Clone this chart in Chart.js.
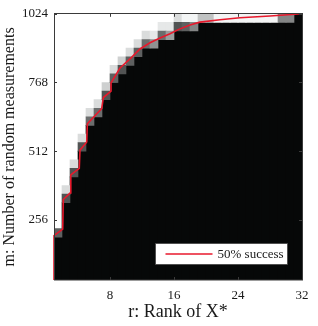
<!DOCTYPE html>
<html>
<head>
<meta charset="utf-8">
<script src="https://cdn.jsdelivr.net/npm/chart.js@4.4.1/dist/chart.umd.min.js"></script>
<style>
  html, body { margin: 0; padding: 0; background: #ffffff; }
  #wrap { width: 318px; height: 326px; }
</style>
</head>
<body>
<div id="wrap"><canvas id="c" width="318" height="326"></canvas></div>
<script>
// ---- data ----
// cells span rank k .. k+1 (k = 1..31) and m .. m+32
const cellRank = [1,2,3,4,5,6,7,8,9,10,11,12,13,14,15,16,17,18,19,20,21,22,23,24,25,26,27,28,29,30,31];
// top edge (m) of the all-failure (black) block in each rank column
const blackTop = [192,320,416,512,608,640,704,768,800,832,864,896,896,928,928,960,
                  960,960,992,992,992,992,992,992,992,992,992,992,992,992,1024];
// success fraction of the 1st and 2nd cells above that block (null = white)
const level1 = [0.35,0.3,0.3,0.3,0.4,0.4,0.3,0.35,0.3,0.35,0.35,0.4,0.55,0.4,0.6,0.3,
                0.35,0.5,0.75,0.75,0.95,0.95,0.95,0.95,0.95,0.95,0.95,0.95,0.5,0.5,null];
const level2 = [null,0.85,0.85,0.85,0.85,0.85,0.8,0.85,0.8,0.85,0.85,0.85,0.9,0.9,0.9,0.85,
                0.95,0.95,null,null,null,null,null,null,null,null,null,null,null,null,null];
// 50% success curve
const curveRank = [1,1,2.09,2.16,3.0,3.1,4.16,4.25,5.09,5.17,6.96,7.17,8.13,8.13,9.25,10.6,11.75,13,14.25,15.5,16.6,18,19.25,21.75,24.25,28,32];
const curveM    = [32,197,222,332,356,424,448,516,546,614,671,712,736,767,822,859,893,916,934,950,966,982,993,1002,1009,1016,1024];
const xTicks = [8,16,24,32];
const yTicks = [256,512,768,1024];
const cellM = 32, cellR = 1;
const legendLabel = '50% success';

// ---- helpers ----
function grayOf(v){ const g = Math.round(8 + v*(255-8)); return 'rgb('+g+','+Math.min(255,g+2)+','+Math.min(255,g+2)+')'; }
function levelDataset(levels, offset){
  const data = [], colors = [];
  cellRank.forEach((k,i)=>{
    if(levels[i]===null) return;
    const lo = blackTop[i] + offset*cellM;
    data.push({x:k + cellR/2, y:[lo, lo+cellM]});
    colors.push(grayOf(levels[i]));
  });
  return {type:'bar', data, backgroundColor: colors, borderWidth:0, grouped:false,
          barPercentage:1, categoryPercentage:1, order:2};
}

const failure = {type:'bar', data: cellRank.map((k,i)=>({x:k + cellR/2, y:[32, blackTop[i]]})),
  backgroundColor:'#060808', borderWidth:0, grouped:false, barPercentage:1, categoryPercentage:1, order:3};

const curve = {type:'line', label: legendLabel,
  data: curveRank.map((r,i)=>({x:r, y:curveM[i]})),
  borderColor:'#e8192c', borderWidth:1.6, pointRadius:0, tension:0, order:0, clip:false};

const frame = {
  id:'frame',
  afterDatasetsDraw(chart){
    const {ctx, chartArea:a, scales} = chart;
    ctx.save();
    ctx.strokeStyle = '#3a3a3a'; ctx.lineWidth = 1;
    ctx.strokeRect(Math.round(a.left)+0.5, Math.round(a.top)-0.5, Math.round(a.right-a.left), Math.round(a.bottom-a.top)+0.5);
    ctx.beginPath();
    xTicks.forEach(v=>{ const p = Math.round(scales.x.getPixelForValue(v))+0.5;
      ctx.moveTo(p,a.bottom); ctx.lineTo(p,a.bottom-3); ctx.moveTo(p,a.top); ctx.lineTo(p,a.top+3); });
    yTicks.forEach(v=>{ const p = Math.round(scales.y.getPixelForValue(v))+0.5;
      ctx.moveTo(a.left,p); ctx.lineTo(a.left+3,p); ctx.moveTo(a.right,p); ctx.lineTo(a.right-3,p); });
    ctx.stroke();
    // legend
    const w = 132, h = 21;
    const x0 = Math.round(a.right - 15 - w)+0.5, y0 = Math.round(a.bottom - 16 - h)+0.5;
    ctx.fillStyle = '#ffffff'; ctx.fillRect(x0,y0,w,h);
    ctx.strokeStyle = '#444'; ctx.lineWidth = 0.8; ctx.strokeRect(x0,y0,w,h);
    ctx.strokeStyle = curve.borderColor; ctx.lineWidth = 1.6;
    ctx.beginPath(); ctx.moveTo(x0+10, y0+h/2); ctx.lineTo(x0+57, y0+h/2); ctx.stroke();
    ctx.fillStyle = '#1a1a1a'; ctx.font = '13px "Liberation Serif"'; ctx.textBaseline='middle'; ctx.textAlign='left';
    ctx.fillText(legendLabel, x0+62, y0+h/2+0.5);
    ctx.restore();
  }
};

new Chart(document.getElementById('c'), {
  data: { datasets: [curve, levelDataset(level1,0), levelDataset(level2,1), failure] },
  options: {
    responsive:false, animation:false, devicePixelRatio:1,
    layout:{ padding:{ top:10, right:16, left:0, bottom:0 } },
    plugins:{ legend:{display:false}, tooltip:{enabled:false} },
    scales:{
      x:{ type:'linear', min:1, max:32, offset:false,
          afterBuildTicks: s => { s.ticks = xTicks.map(v=>({value:v})); },
          afterFit: s => { s.height = 46; },
          grid:{display:false, drawTicks:false}, border:{display:false},
          ticks:{ padding:8, color:'#1a1a1a', font:{family:'Liberation Serif', size:13}, maxRotation:0, callback: v => String(v) },
          title:{ display:true, text:'r: Rank of X*', color:'#1a1a1a', font:{family:'Liberation Serif', size:18}, padding:{top:0,bottom:3} } },
      y:{ type:'linear', min:32, max:1024,
          afterBuildTicks: s => { s.ticks = yTicks.map(v=>({value:v})); },
          afterFit: s => { s.width = 54; },
          grid:{display:false, drawTicks:false}, border:{display:false},
          ticks:{ padding:6, color:'#1a1a1a', font:{family:'Liberation Serif', size:13}, callback: v => String(v) },
          title:{ display:true, text:'m: Number of random measurements', color:'#1a1a1a', font:{family:'Liberation Serif', size:16}, padding:{top:0,bottom:0} } }
    }
  },
  plugins:[frame]
});
</script>
</body>
</html>
